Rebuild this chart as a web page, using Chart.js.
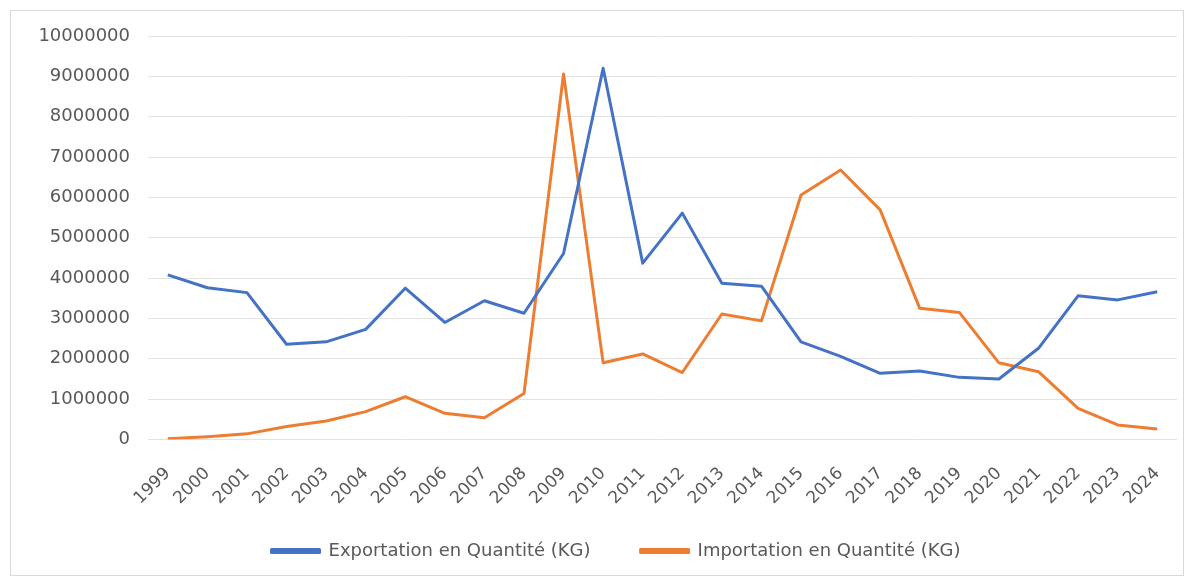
<!DOCTYPE html>
<html>
<head>
<meta charset="utf-8">
<script src="https://cdn.jsdelivr.net/npm/chart.js@4.4.0/dist/chart.umd.min.js"></script>
<style>
  html, body { margin: 0; padding: 0; background: #ffffff; }
  #wrap { position: relative; width: 1189px; height: 580px; }
  #frame { position: absolute; left: 10px; top: 10px; width: 1174px; height: 566px; border: 1px solid #d9d9d9; box-sizing: border-box; pointer-events: none; }
  canvas { position: absolute; left: 0; top: 0; }
</style>
</head>
<body>
<div id="wrap">
  <canvas id="chart" width="1189" height="580"></canvas>
  <div id="frame"></div>
</div>
<script>
// Years on the category axis
const years = ['1999','2000','2001','2002','2003','2004','2005','2006','2007','2008','2009','2010','2011','2012','2013','2014','2015','2016','2017','2018','2019','2020','2021','2022','2023','2024'];

// Exported quantity (kg)
const exportKg = [4080000, 3760000, 3640000, 2360000, 2420000, 2730000, 3750000, 2900000, 3440000, 3130000, 4610000, 9200000, 4370000, 5610000, 3870000, 3800000, 2420000, 2060000, 1640000, 1700000, 1540000, 1500000, 2260000, 3560000, 3460000, 3660000];

// Imported quantity (kg)
const importKg = [20000, 70000, 140000, 320000, 460000, 690000, 1060000, 650000, 540000, 1140000, 9060000, 1900000, 2120000, 1660000, 3110000, 2940000, 6060000, 6680000, 5690000, 3250000, 3150000, 1900000, 1680000, 770000, 360000, 260000];

const seriesNames = ['Exportation en Quantité (KG)', 'Importation en Quantité (KG)'];

const yMax = 10000000;
const yStep = 1000000;

const textColor = '#595959';
const gridColor = '#e3e3e3';

new Chart(document.getElementById('chart'), {
  type: 'line',
  data: {
    labels: years,
    datasets: [
      {
        label: seriesNames[0],
        data: exportKg,
        borderColor: '#4472C4',
        backgroundColor: '#4472C4',
        borderWidth: 3,
        pointRadius: 0,
        tension: 0,
        borderJoinStyle: 'round'
      },
      {
        label: seriesNames[1],
        data: importKg,
        borderColor: '#ED7D31',
        backgroundColor: '#ED7D31',
        borderWidth: 3,
        pointRadius: 0,
        tension: 0,
        borderJoinStyle: 'round'
      }
    ]
  },
  options: {
    responsive: false,
    animation: false,
    layout: { padding: { left: 55, right: 12, top: 36, bottom: 10 } },
    plugins: {
      tooltip: { enabled: false },
      legend: {
        position: 'bottom',
        labels: {
          color: textColor,
          font: { family: 'DejaVu Sans', size: 18 },
          boxWidth: 48,
          boxHeight: 3,
          padding: 50
        }
      }
    },
    scales: {
      x: {
        offset: true,
        grid: { display: false, drawTicks: false },
        border: { display: false },
        ticks: {
          color: textColor,
          font: { family: 'DejaVu Sans', size: 17 },
          minRotation: 45,
          maxRotation: 45,
          autoSkip: false,
          padding: 24
        },
        afterFit: (scale) => {
          scale.height = 52.5;
          scale.paddingLeft = 0;
          scale.paddingRight = 0;
          // let the slanted year labels run below the axis box
          scale._computeLabelArea = () => undefined;
        }
      },
      y: {
        min: 0,
        max: yMax,
        grid: { color: gridColor, lineWidth: 1, drawTicks: false },
        border: { display: false },
        ticks: {
          stepSize: yStep,
          color: textColor,
          font: { family: 'DejaVu Sans', size: 18 },
          padding: 18,
          callback: (v) => String(v)
        },
        afterFit: (scale) => {
          scale.width = 93;
          scale._computeLabelArea = () => undefined;
        }
      }
    }
  }
});
</script>
</body>
</html>
